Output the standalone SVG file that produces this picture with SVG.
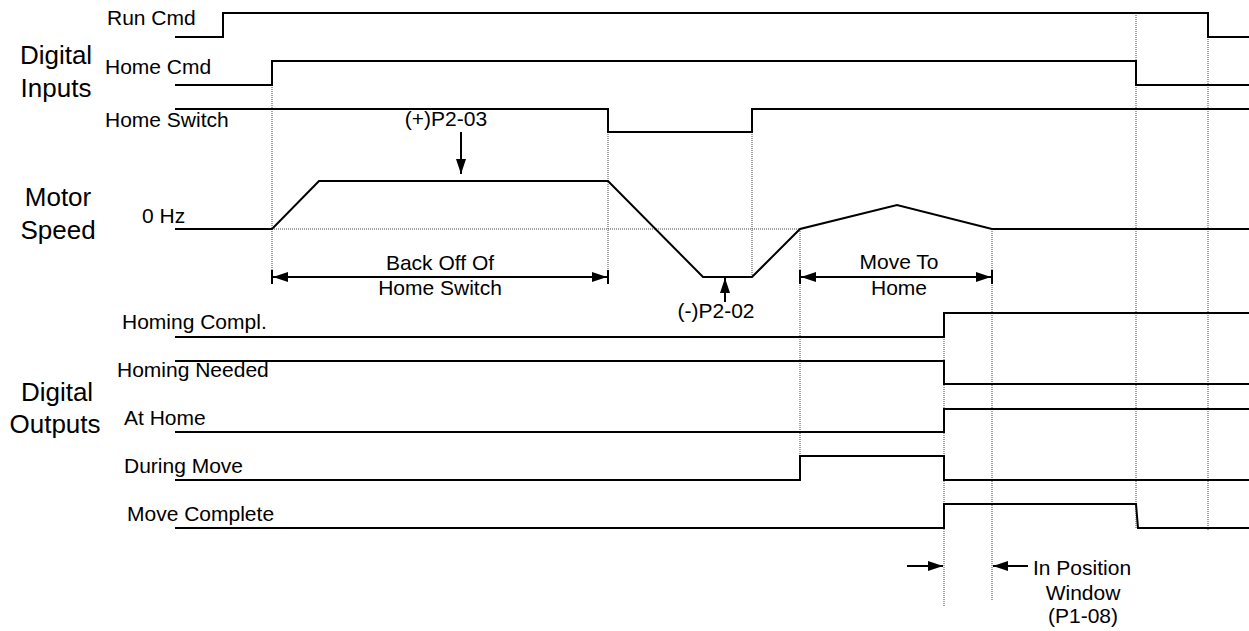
<svg xmlns="http://www.w3.org/2000/svg" width="1249" height="631" viewBox="0 0 1249 631">
<style>
text{font-family:"Liberation Sans",Arial,sans-serif;fill:#000}
.s{font-size:21px}
.b{font-size:26px;text-anchor:middle}
.m{text-anchor:middle}
.sig{fill:none;stroke:#000;stroke-width:2;stroke-linejoin:miter}
.dot{fill:none;stroke:#444;stroke-width:1;stroke-dasharray:1 1}
.dim{fill:none;stroke:#000;stroke-width:2}
</style>
<defs>
<marker id="ah" viewBox="0 0 15 10" refX="15" refY="5" markerWidth="15" markerHeight="10" markerUnits="userSpaceOnUse" orient="auto-start-reverse">
<path d="M0,0 L15,5 L0,10 z" fill="#000"/>
</marker>
</defs>
<rect width="1249" height="631" fill="#fff"/>

<g id="group-labels">
<text class="b" x="56" y="64">Digital</text>
<text class="b" x="56" y="97">Inputs</text>
<text class="b" x="58" y="206">Motor</text>
<text class="b" x="58" y="239">Speed</text>
<text class="b" x="57" y="401">Digital</text>
<text class="b" x="55" y="433">Outputs</text>
</g>

<g id="connectors">
<line class="dot" x1="272" y1="85" x2="272" y2="283"/>
<line class="dot" x1="608" y1="132" x2="608" y2="283"/>
<line class="dot" x1="752" y1="132" x2="752" y2="277"/>
<line class="dot" x1="800" y1="229" x2="800" y2="480"/>
<line class="dot" x1="944" y1="313" x2="944" y2="606"/>
<line class="dot" x1="992" y1="229" x2="992" y2="600"/>
<line class="dot" x1="1136" y1="13" x2="1136" y2="528"/>
<line class="dot" x1="1208" y1="13" x2="1208" y2="530"/>
<line class="dot" x1="272" y1="229" x2="800" y2="229"/>
<line class="dim" x1="272" y1="270" x2="272" y2="284"/>
<line class="dim" x1="608" y1="270" x2="608" y2="284"/>
<line class="dim" x1="800" y1="270" x2="800" y2="284"/>
<line class="dim" x1="992" y1="270" x2="992" y2="284"/>
<line class="dim" x1="273" y1="277" x2="607" y2="277" marker-start="url(#ah)" marker-end="url(#ah)"/>
<line class="dim" x1="801" y1="277" x2="991" y2="277" marker-start="url(#ah)" marker-end="url(#ah)"/>
<line class="dim" x1="461" y1="132" x2="461" y2="174" marker-end="url(#ah)"/>
<line class="dim" x1="725" y1="302" x2="725" y2="278" marker-end="url(#ah)"/>
<line class="dim" x1="907" y1="566" x2="943" y2="566" marker-end="url(#ah)"/>
<line class="dim" x1="1028" y1="566" x2="993" y2="566" marker-end="url(#ah)"/>
</g>

<g id="run-cmd">
<text class="s" x="107" y="25">Run Cmd</text>
<polyline class="sig" points="175,37 223,37 223,13 1208,13 1208,37 1249,37"/>
</g>
<g id="home-cmd">
<text class="s" x="105" y="74">Home Cmd</text>
<polyline class="sig" points="175,85 272,85 272,61 1136,61 1136,85 1249,85"/>
</g>
<g id="home-switch">
<text class="s" x="105" y="127">Home Switch</text>
<polyline class="sig" points="175,109 608,109 608,132 752,132 752,109 1249,109"/>
</g>
<g id="motor-speed">
<text class="s" x="142" y="223">0 Hz</text>
<polyline class="sig" points="175,229 272,229 319,181 608,181 703,277 752,277 800,229 897,205 992,229 1249,229"/>
<text class="s m" x="446" y="126">(+)P2-03</text>
<text class="s m" x="440" y="270">Back Off Of</text>
<text class="s m" x="440" y="295">Home Switch</text>
<text class="s m" x="716" y="318">(-)P2-02</text>
<text class="s m" x="899" y="269">Move To</text>
<text class="s m" x="899" y="295">Home</text>
</g>
<g id="homing-compl">
<text class="s" x="122" y="329">Homing Compl.</text>
<polyline class="sig" points="175,337 944,337 944,313 1249,313"/>
</g>
<g id="homing-needed">
<text class="s" x="117" y="377">Homing Needed</text>
<polyline class="sig" points="175,361 944,361 944,384 1249,384"/>
</g>
<g id="at-home">
<text class="s" x="124" y="425">At Home</text>
<polyline class="sig" points="175,432 944,432 944,409 1249,409"/>
</g>
<g id="during-move">
<text class="s" x="124" y="473">During Move</text>
<polyline class="sig" points="175,480 800,480 800,456 944,456 944,480 1249,480"/>
</g>
<g id="move-complete">
<text class="s" x="127" y="521">Move Complete</text>
<polyline class="sig" points="175,528 944,528 944,504 1136,504 1138,528 1249,528"/>
</g>
<g id="in-position">
<text class="s" x="1033" y="575">In Position</text>
<text class="s m" x="1083" y="600">Window</text>
<text class="s m" x="1083" y="623">(P1-08)</text>
</g>
</svg>
